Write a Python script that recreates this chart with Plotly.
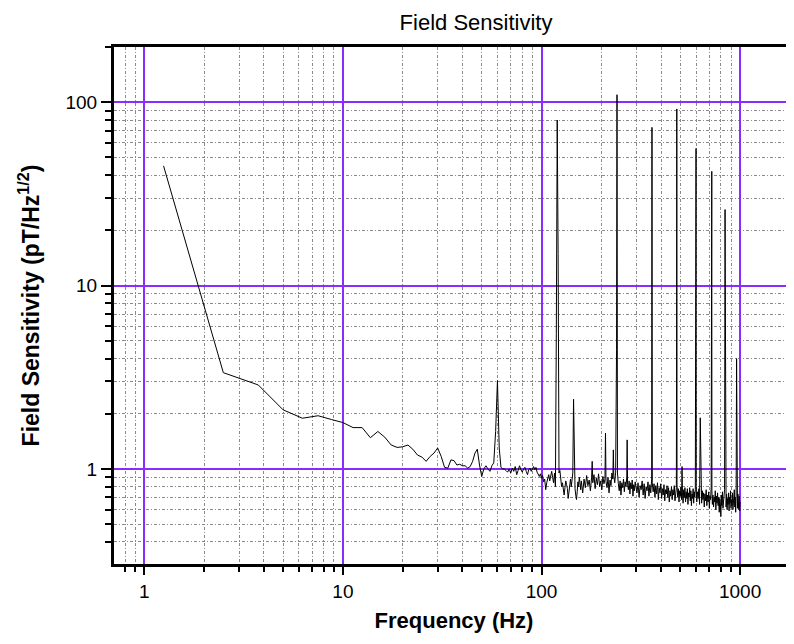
import plotly.graph_objects as go

# ---------------- data ----------------
freq_hz = [
    1.25, 2.5, 3.75, 5.0, 6.25, 7.5, 8.75, 10.0,
    11.25, 12.5, 13.75, 15.0, 16.25, 17.5, 18.75, 20.0, 21.25, 22.5,
    23.75, 25.0, 26.25, 27.5, 28.75, 30.0, 31.25, 32.5, 33.75, 35.0,
    36.25, 37.5, 38.75, 40.0, 41.25, 42.5, 43.75, 45.0, 46.25, 47.5,
    48.75, 50.0, 51.25, 52.5, 53.75, 55.0, 56.25, 57.5, 58.75, 60.0,
    61.25, 62.5, 63.75, 65.0, 66.25, 67.5, 68.75, 70.0, 71.25, 72.5,
    73.75, 75.0, 76.25, 77.5, 78.75, 80.0, 81.25, 82.5, 83.75, 85.0,
    86.25, 87.5, 88.75, 90.0, 91.25, 92.5, 93.75, 95.0, 96.25, 97.5,
    98.75, 100.0, 101.25, 102.5, 103.75, 105.0, 106.25, 107.5, 108.75, 110.0,
    111.25, 112.5, 113.75, 115.0, 116.25, 117.5, 118.75, 120.0, 121.25, 122.5,
    123.75, 125.0, 126.25, 127.5, 128.75, 130.0, 131.25, 132.5, 133.75, 135.0,
    136.25, 137.5, 138.75, 140.0, 141.25, 142.5, 143.75, 145.0, 146.25, 147.5,
    148.75, 150.0, 151.25, 152.5, 153.75, 155.0, 156.25, 157.5,
    158.75, 161.25, 163.75, 166.25, 168.75, 171.25, 173.75, 176.25, 178.75, 180.0,
    181.25, 183.75, 186.25, 188.75, 191.25, 193.75, 196.25, 198.75, 201.25, 203.75,
    206.25, 208.75, 210.0, 211.25, 213.75, 216.25, 218.75, 221.25, 223.75, 226.25,
    228.75, 230.0, 231.25, 233.75, 236.25, 238.75, 240.0, 241.25, 243.75, 246.25,
    248.75, 251.25, 253.75, 256.25, 258.75, 261.25, 263.75, 266.25, 268.75, 270.0,
    271.25, 273.75, 276.25, 278.75, 281.25, 283.75, 286.25, 288.75, 291.25, 293.75,
    296.25, 298.75,
    302.5, 306.25, 310.0, 313.75, 317.5, 321.25, 325.0, 328.75, 332.5, 336.25,
    340.0, 343.75, 347.5, 351.25, 355.0, 358.75, 360.0, 361.25, 365.0, 368.75,
    372.5, 376.25, 380.0, 383.75, 387.5, 391.25, 395.0, 398.75, 402.5, 406.25,
    410.0, 413.75, 417.5, 421.25, 425.0, 428.75, 432.5, 436.25, 440.0, 443.75,
    447.5, 451.25, 455.0, 458.75, 462.5, 466.25, 470.0, 473.75, 477.5, 478.75,
    480.0, 481.25, 485.0, 488.75, 492.5, 496.25, 500.0, 503.75, 507.5, 510.0,
    512.5, 516.25, 520.0, 523.75, 527.5, 531.25, 535.0, 538.75, 542.5, 546.25,
    550.0, 553.75, 557.5, 561.25, 565.0, 568.75, 572.5, 576.25, 580.0, 583.75,
    587.5, 591.25, 595.0, 598.75, 600.0, 601.25,
    605.0, 610.0, 615.0, 620.0, 625.0, 630.0, 635.0, 640.0, 645.0, 650.0,
    655.0, 660.0, 665.0, 670.0, 675.0, 680.0, 685.0, 690.0, 695.0, 700.0,
    705.0, 710.0, 715.0, 718.75, 720.0, 721.25, 725.0, 730.0, 735.0, 740.0,
    745.0, 750.0, 755.0, 760.0, 765.0, 770.0, 775.0, 780.0, 785.0, 790.0,
    795.0, 800.0, 805.0, 810.0, 815.0, 820.0, 825.0, 830.0, 835.0, 840.0,
    845.0, 850.0, 855.0, 860.0, 865.0, 870.0, 875.0, 880.0, 885.0, 890.0,
    895.0, 900.0, 905.0, 910.0, 915.0, 920.0, 925.0, 930.0, 935.0, 940.0,
    945.0, 950.0, 955.0, 960.0, 965.0, 970.0, 975.0, 980.0, 985.0, 990.0,
    995.0, 1000.0,
]

sensitivity_pt = [
    45.0, 3.35, 2.87, 2.10, 1.89, 1.95, 1.86, 1.79,
    1.68, 1.68, 1.48, 1.60, 1.49, 1.35, 1.31, 1.32, 1.35, 1.28,
    1.19, 1.16, 1.10, 1.17, 1.22, 1.30, 1.17, 1.02, 1.01, 1.12,
    1.11, 1.05, 1.06, 1.04, 1.04, 1.01, 1.03, 1.10, 1.22, 1.28,
    1.05, 0.91, 1.00, 1.04, 1.00, 0.97, 1.04, 1.08, 1.60, 3.03,
    1.30, 1.02, 1.00, 1.00, 0.98, 0.96, 1.00, 0.95, 1.01, 0.97,
    1.03, 0.93, 0.98, 1.04, 0.99, 0.96, 1.00, 1.02, 0.97, 0.93,
    0.99, 1.01, 0.97, 1.00, 1.03, 0.99, 1.02, 0.96, 0.93, 0.91,
    0.94, 0.89, 0.92, 0.85, 0.88, 0.77, 0.84, 0.90, 0.93, 0.86,
    0.94, 0.97, 0.90, 0.84, 0.95, 0.80, 5.5, 80.0, 15.0, 0.95,
    0.98, 0.87, 0.80, 0.84, 0.76, 0.72, 0.79, 0.86, 0.82, 0.78,
    0.69, 0.75, 0.83, 0.88, 0.80, 0.85, 0.95, 2.40, 0.90, 0.78,
    0.72, 0.68, 0.75, 0.85, 0.80, 0.90, 0.84, 0.77,
    0.86, 0.74, 0.88, 0.79, 0.92, 0.81, 0.87, 0.76, 0.90, 1.10,
    0.84, 0.93, 0.78, 0.89, 0.82, 0.94, 0.80, 0.86, 0.77, 0.91,
    0.83, 0.88, 1.57, 0.85, 0.79, 0.90, 0.74, 0.87, 0.81, 0.95,
    0.88, 1.27, 0.92, 0.84, 0.96, 4.5, 110.0, 0.95, 0.83, 0.76,
    0.86, 0.72, 0.84, 0.79, 0.88, 0.75, 0.85, 0.80, 0.90, 1.44,
    0.82, 0.77, 0.86, 0.73, 0.84, 0.78, 0.87, 0.71, 0.82, 0.76,
    0.85, 0.80,
    0.74, 0.84, 0.70, 0.81, 0.77, 0.86, 0.72, 0.83, 0.69, 0.80,
    0.76, 0.85, 0.71, 0.82, 0.74, 0.88, 73.0, 0.84, 0.75, 0.83,
    0.70, 0.81, 0.73, 0.84, 0.68, 0.79, 0.74, 0.83, 0.69, 0.78,
    0.72, 0.82, 0.67, 0.77, 0.73, 0.81, 0.70, 0.79, 0.66, 0.76,
    0.71, 0.80, 0.68, 0.77, 0.72, 0.81, 0.67, 0.75, 0.79, 3.3,
    92.0, 0.82, 0.70, 0.78, 0.66, 0.76, 0.71, 0.80, 0.68, 1.03,
    0.74, 0.65, 0.77, 0.70, 0.79, 0.66, 0.75, 0.69, 0.78, 0.64,
    0.74, 0.70, 0.79, 0.67, 0.76, 0.63, 0.73, 0.69, 0.78, 0.65,
    0.75, 0.70, 0.77, 3.8, 56.0, 0.80,
    0.66, 0.75, 0.69, 0.78, 0.64, 1.90, 0.72, 0.65, 0.76, 0.68,
    0.74, 0.62, 0.73, 0.67, 0.77, 0.63, 0.72, 0.66, 0.75, 0.61,
    0.71, 0.68, 0.79, 4.3, 42.0, 0.76, 0.64, 0.72, 0.62, 0.70,
    0.66, 0.76, 0.60, 0.71, 0.65, 0.74, 0.63, 0.70, 0.58, 0.69,
    0.65, 0.55, 0.72, 0.63, 0.75, 0.61, 0.69, 0.66, 0.77, 26.0,
    0.70, 0.62, 0.73, 0.60, 0.69, 0.64, 0.74, 0.59, 0.70, 0.65,
    0.76, 0.61, 0.68, 0.63, 0.74, 0.60, 0.71, 0.66, 0.77, 0.62,
    0.70, 0.58, 0.72, 4.0, 0.68, 0.61, 0.73, 0.64, 0.60, 0.71,
    0.59, 0.66,
]

x_major_vals = [1, 10, 100, 1000]
x_major_text = ["1", "10", "100", "1000"]
y_major_vals = [1, 10, 100]
y_major_text = ["1", "10", "100"]
x_minor_vals = [0.8, 0.9] + [m * d for d in (1, 10, 100) for m in range(2, 10)]
y_minor_vals = [0.3, 0.4, 0.5, 0.6, 0.7, 0.8, 0.9] + [m * d for d in (1, 10) for m in range(2, 10)] + [200]

title_text = "Field Sensitivity"
x_title = "<b>Frequency (Hz)</b>"
y_title = "<b>Field Sensitivity (pT/Hz<sup>1/2</sup>)</b>"

# ---------------- figure ----------------
# The page body adds an 8 px margin, so the figure is 8 px smaller and
# every position below is given relative to that offset.
FONT = "Liberation Sans, Arial, sans-serif"
PURPLE = "#8a2cff"
GRAY = "#8a8a8a"
W, H = 786, 636

fig = go.Figure()
fig.add_trace(go.Scatter(
    x=freq_hz, y=sensitivity_pt, mode="lines",
    line=dict(color="black", width=1),
    showlegend=False,
))

fig.update_layout(
    width=W, height=H,
    margin=dict(l=106, r=0, t=39, b=80, autoexpand=False),
    paper_bgcolor="white", plot_bgcolor="white",
    font=dict(family=FONT, color="black"),
    title=dict(text=title_text, x=468 / W, xanchor="center", y=1 - 14 / H,
               yanchor="middle",
               font=dict(size=22, family=FONT, color="black")),
)

fig.update_xaxes(
    type="log", range=[-0.1526, 3.2714], automargin=False,
    tickmode="array", tickvals=x_major_vals, ticktext=x_major_text,
    tickfont=dict(size=19, family=FONT),
    ticks="outside", ticklen=8, tickwidth=2, tickcolor="black",
    showline=True, linewidth=3, linecolor="black", mirror=True,
    showgrid=True, gridcolor=PURPLE, gridwidth=1.5,
    minor=dict(tickmode="array", tickvals=x_minor_vals, ticks="outside",
               ticklen=5, tickwidth=2, tickcolor="black",
               showgrid=True, gridcolor=GRAY, gridwidth=1,
               griddash="3px,2px,1px,2px"),
    title=dict(text=x_title, font=dict(size=22, family=FONT), standoff=12),
    zeroline=False,
)

fig.update_yaxes(
    type="log", range=[-0.5188, 2.3017], automargin=False,
    tickmode="array", tickvals=y_major_vals, ticktext=y_major_text,
    tickfont=dict(size=19, family=FONT),
    ticks="outside", ticklen=10, tickwidth=2, tickcolor="black",
    showline=True, linewidth=3, linecolor="black", mirror=False,
    showgrid=True, gridcolor=PURPLE, gridwidth=1.5,
    minor=dict(tickmode="array", tickvals=y_minor_vals, ticks="outside",
               ticklen=6, tickwidth=2, tickcolor="black",
               showgrid=True, gridcolor=GRAY, gridwidth=1,
               griddash="3px,2px,1px,2px"),
    title=dict(text=y_title, font=dict(size=23, family=FONT), standoff=20),
    zeroline=False,
)

fig.write_html("out.html")
